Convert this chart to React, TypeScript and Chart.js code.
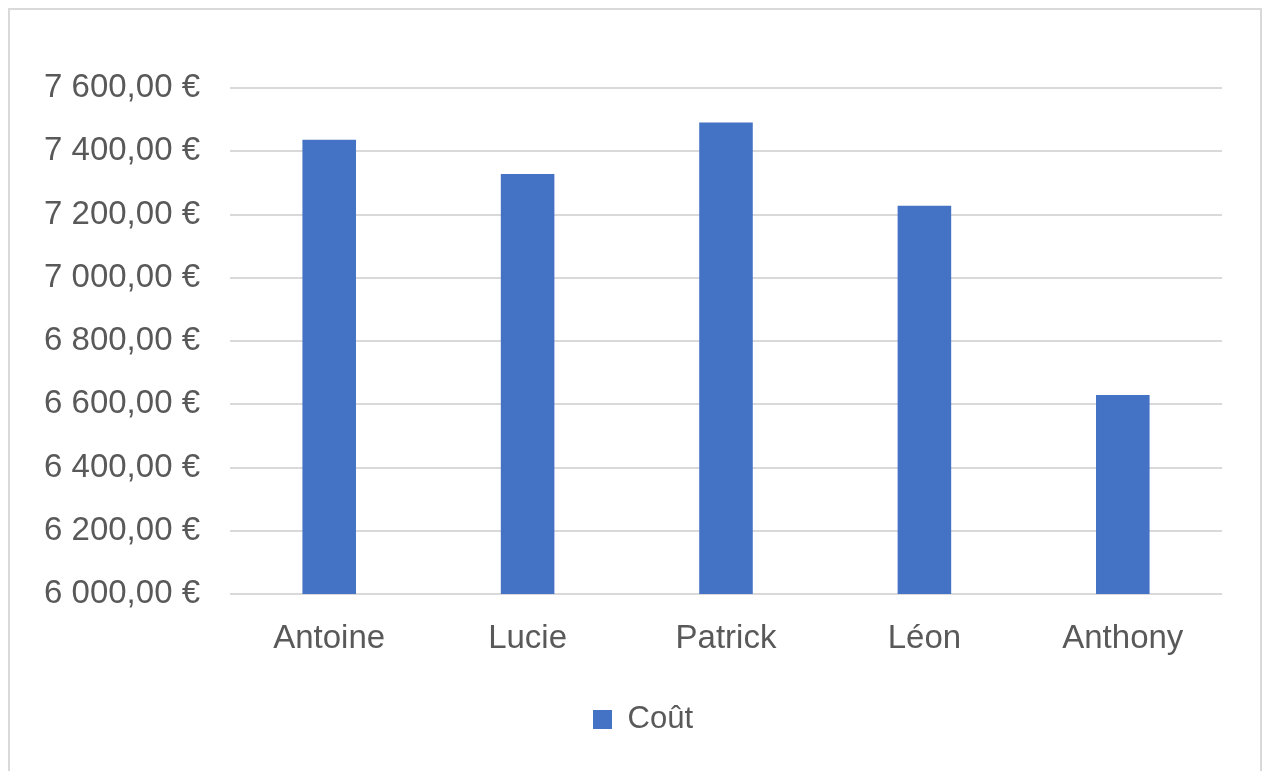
import React, { useEffect, useRef } from "react";
import { Chart, registerables } from "chart.js";

Chart.register(...registerables);

const categories = ["Antoine", "Lucie", "Patrick", "Léon", "Anthony"];
const seriesName = "Coût";
const costValues = [7436, 7328, 7491, 7228, 6629];
const yMin = 6000;
const yMax = 7600;
const yStep = 200;

const BAR_COLOR = "#4472C4";
const GRID_COLOR = "#D9D9D9";
const TEXT_COLOR = "#595959";
const FONT = "'Liberation Sans', Arial, sans-serif";

function formatEuro(v: number): string {
  const fixed = Math.abs(v).toFixed(2);
  const [intPart, dec] = fixed.split(".");
  const grouped = intPart.replace(/\B(?=(\d{3})+(?!\d))/g, " ");
  return (v < 0 ? "-" : "") + grouped + "," + dec + " €";
}

export default function App() {
  const ref = useRef<HTMLCanvasElement | null>(null);

  useEffect(() => {
    if (!ref.current) return;
    const chart = new Chart(ref.current, {
      type: "bar",
      data: {
        labels: categories,
        datasets: [
          {
            label: seriesName,
            data: costValues,
            backgroundColor: BAR_COLOR,
            borderWidth: 0,
            barPercentage: 0.27,
            categoryPercentage: 1,
          },
        ],
      },
      options: {
        animation: false,
        responsive: false,
        maintainAspectRatio: false,
        layout: { padding: { left: 16, right: 0, top: 78, bottom: 26 } },
        plugins: {
          tooltip: { enabled: false },
          legend: {
            position: "bottom",
            labels: {
              boxWidth: 19,
              boxHeight: 19,
              padding: 10,
              color: TEXT_COLOR,
              font: { family: FONT, size: 31 },
            },
          },
        },
        scales: {
          x: {
            grid: { display: false, drawTicks: false },
            border: { display: false },
            ticks: {
              color: TEXT_COLOR,
              font: { family: FONT, size: 33 },
              padding: 25,
              maxRotation: 0,
            },
            afterFit: (scale: any) => {
              scale.height = 100;
            },
          },
          y: {
            min: yMin,
            max: yMax,
            grid: { color: GRID_COLOR, lineWidth: 2, drawTicks: false },
            border: { display: false },
            ticks: {
              stepSize: yStep,
              color: TEXT_COLOR,
              font: { family: FONT, size: 33 },
              padding: 30,
              callback: (v: any) => formatEuro(Number(v)),
            },
            afterFit: (scale: any) => {
              scale.width = 204;
            },
          },
          yRight: {
            position: "right",
            display: true,
            grid: { display: false, drawTicks: false },
            border: { display: false },
            ticks: { display: false },
            afterFit: (scale: any) => {
              scale.width = 38;
            },
          },
        },
      },
    });
    return () => chart.destroy();
  }, []);

  return (
    <div
      style={{
        position: "fixed",
        left: 8,
        top: 8,
        width: 1250,
        height: 761,
        border: "2px solid #D9D9D9",
        background: "#fff",
      }}
    >
      <canvas ref={ref} width={1250} height={761} style={{ display: "block" }} />
    </div>
  );
}
